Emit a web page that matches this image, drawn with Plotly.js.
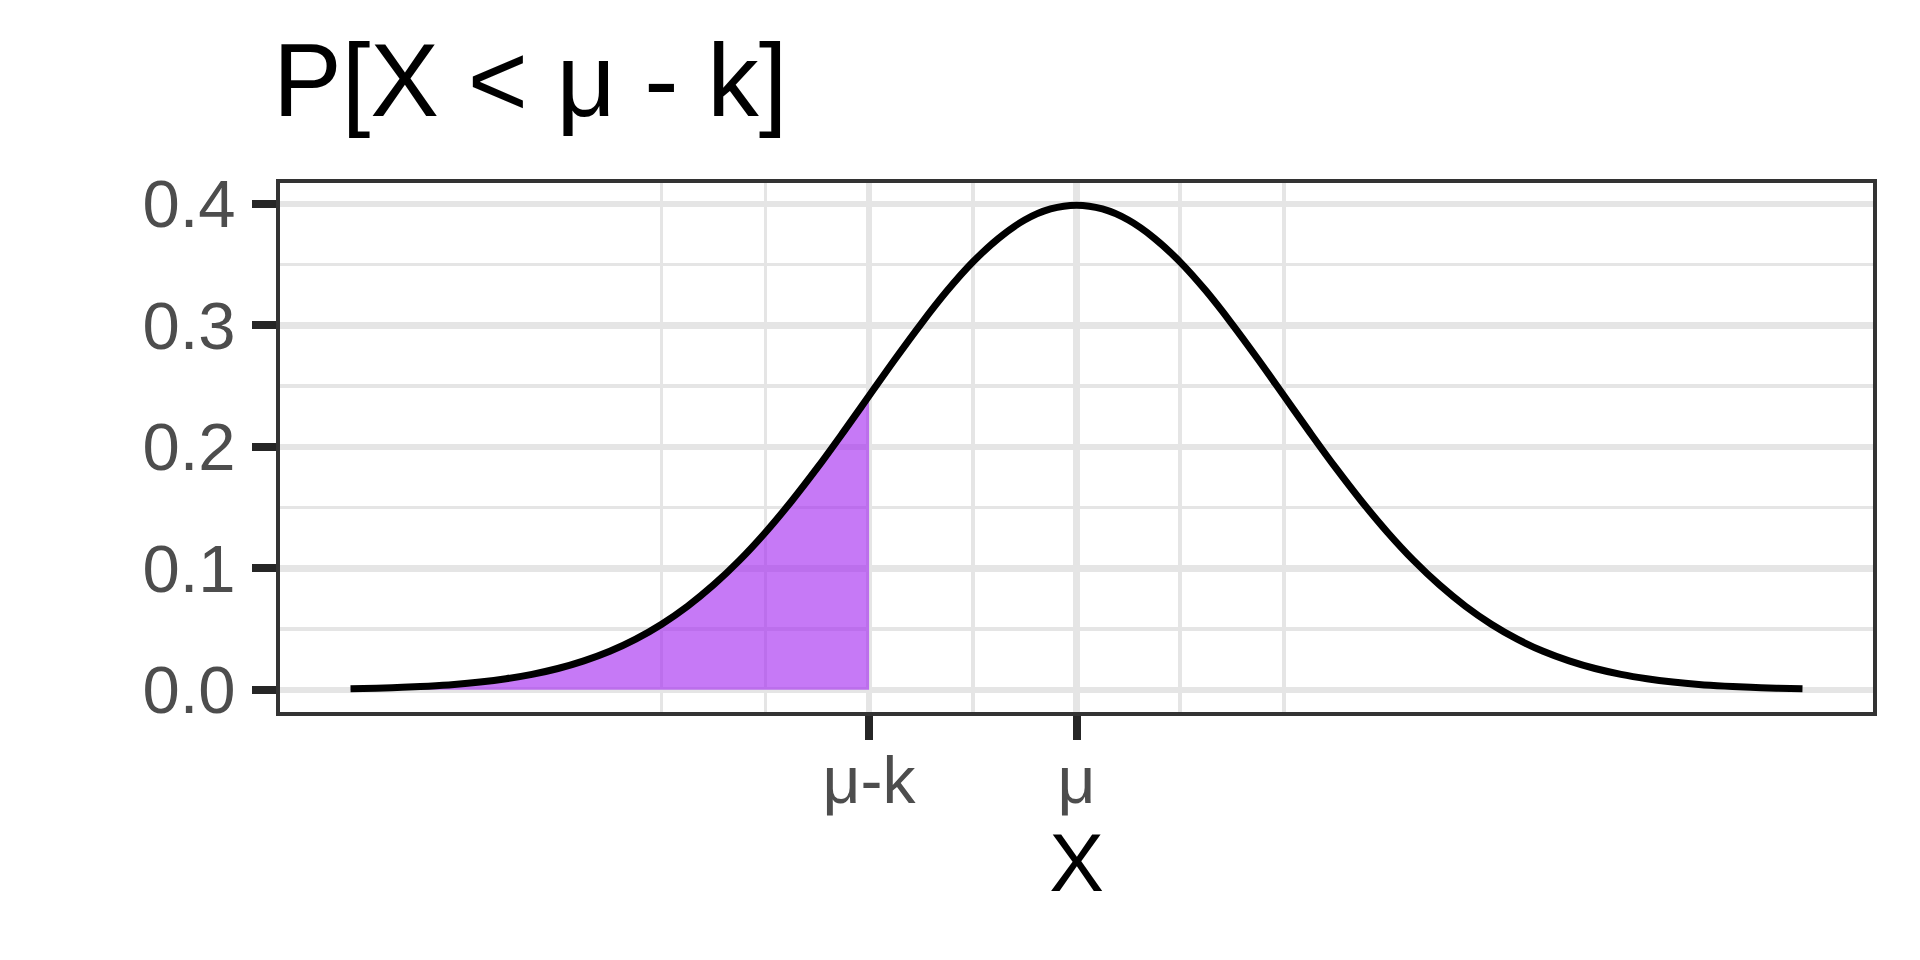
<!DOCTYPE html>
<html>
<head>
<meta charset="utf-8">
<script src="https://cdn.plot.ly/plotly-3.0.1.min.js"></script>
<style>html,body{margin:0;padding:0;background:#fff}#chart{width:1920px;height:960px}</style>
</head>
<body>
<div id="chart"></div>
<script>
// Density curve
const xValues = [-3.5,-3.375,-3.25,-3.125,-3.0,-2.875,-2.75,-2.625,-2.5,-2.375,-2.25,-2.125,-2.0,-1.875,-1.75,-1.625,-1.5,-1.375,-1.25,-1.125,-1.0,-0.875,-0.75,-0.625,-0.5,-0.375,-0.25,-0.125,0.0,0.125,0.25,0.375,0.5,0.625,0.75,0.875,1.0,1.125,1.25,1.375,1.5,1.625,1.75,1.875,2.0,2.125,2.25,2.375,2.5,2.625,2.75,2.875,3.0,3.125,3.25,3.375,3.5];
const density = [0.0009,0.0013,0.0020,0.0030,0.0044,0.0064,0.0091,0.0127,0.0175,0.0238,0.0317,0.0417,0.0540,0.0688,0.0863,0.1065,0.1295,0.1550,0.1826,0.2119,0.2420,0.2721,0.3011,0.3282,0.3521,0.3718,0.3867,0.3958,0.3989,0.3958,0.3867,0.3718,0.3521,0.3282,0.3011,0.2721,0.2420,0.2119,0.1826,0.1550,0.1295,0.1065,0.0863,0.0688,0.0540,0.0417,0.0317,0.0238,0.0175,0.0127,0.0091,0.0064,0.0044,0.0030,0.0020,0.0013,0.0009];
// Shaded tail, up to mu - k
const tailX = [-3.5,-3.375,-3.25,-3.125,-3.0,-2.875,-2.75,-2.625,-2.5,-2.375,-2.25,-2.125,-2.0,-1.875,-1.75,-1.625,-1.5,-1.375,-1.25,-1.125,-1.0];
const tailY = [0.0009,0.0013,0.0020,0.0030,0.0044,0.0064,0.0091,0.0127,0.0175,0.0238,0.0317,0.0417,0.0540,0.0688,0.0863,0.1065,0.1295,0.1550,0.1826,0.2119,0.2420];
// Axis ticks
const xTickVals = [-1, 0];
const xTickText = ["μ-k", "μ"];
const xMinorVals = [-2, -1.5, -0.5, 0.5, 1];
const yTickVals = [0, 0.1, 0.2, 0.3, 0.4];
const yTickText = ["0.0", "0.1", "0.2", "0.3", "0.4"];
const yMinorVals = [0.05, 0.15, 0.25, 0.35];

const FONT = "Liberation Sans, Arial, Helvetica, sans-serif";
const traces = [
  {x: tailX, y: tailY, type: "scatter", mode: "lines",
   line: {width: 0, shape: "spline", smoothing: 1}, fill: "tozeroy", fillcolor: "rgba(160,32,240,0.6)", hoverinfo: "skip"},
  {x: xValues, y: density, type: "scatter", mode: "lines",
   line: {color: "#000000", width: 7, shape: "spline", smoothing: 1}}
];
const layout = {
  width: 1920, height: 960,
  paper_bgcolor: "#ffffff", plot_bgcolor: "#ffffff",
  showlegend: false,
  margin: {l: 280, r: 47, t: 183, b: 248},
  title: {text: "P[X < μ - k]", font: {family: FONT, size: 103, color: "#000000"},
          xref: "container", x: 273/1920, xanchor: "left", yref: "container", y: 1 - 116/960, yanchor: "bottom"},
  xaxis: {
    range: [-3.840, 3.840], tickmode: "array", tickvals: xTickVals, ticktext: xTickText,
    ticks: "outside", ticklen: 24, tickwidth: 8, tickcolor: "#262626",
    tickfont: {family: FONT, size: 66, color: "#4D4D4D"}, ticklabelstandoff: -16,
    showgrid: true, gridcolor: "#E5E5E5", gridwidth: 6.5, zeroline: false,
    showline: true, linecolor: "#333333", linewidth: 4, mirror: true,
    minor: {tickmode: "array", tickvals: xMinorVals, showgrid: true, gridcolor: "#E5E5E5", gridwidth: 3.5, ticks: ""},
    title: {text: "X", font: {family: FONT, size: 82, color: "#000000"}, standoff: 14},
    automargin: true
  },
  yaxis: {
    range: [-0.0183, 0.4172], tickmode: "array", tickvals: yTickVals, ticktext: yTickText,
    ticks: "outside", ticklen: 24, tickwidth: 8, tickcolor: "#262626",
    tickfont: {family: FONT, size: 67, color: "#4D4D4D"}, ticklabelstandoff: 3,
    showgrid: true, gridcolor: "#E5E5E5", gridwidth: 6.5, zeroline: false,
    showline: true, linecolor: "#333333", linewidth: 4, mirror: true,
    minor: {tickmode: "array", tickvals: yMinorVals, showgrid: true, gridcolor: "#E5E5E5", gridwidth: 3.5, ticks: ""},
    automargin: false
  }
};
Plotly.newPlot("chart", traces, layout, {displayModeBar: false, staticPlot: true});
</script>
</body>
</html>
